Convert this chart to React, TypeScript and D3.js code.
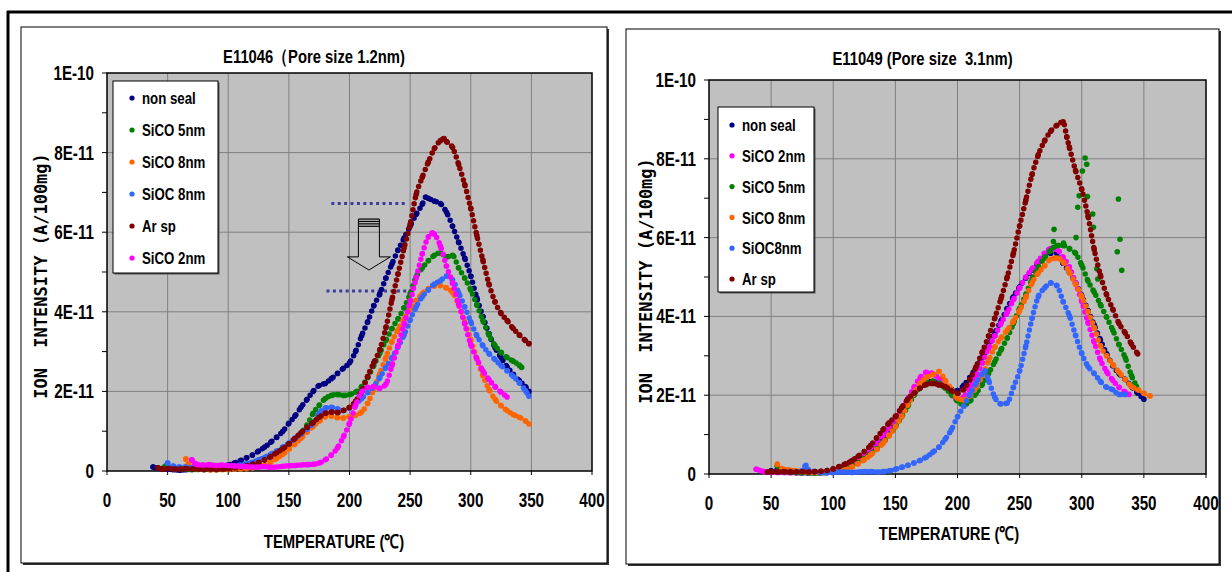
import React from 'react';
import * as d3 from 'd3';

type Pt = [number, number];

// Ion intensity in units of 1E-11 A/100mg against temperature (°C)
const X_TICKS = [0, 50, 100, 150, 200, 250, 300, 350, 400];
const Y_TICKS = [0, 2, 4, 6, 8, 10];
const Y_TICK_LABELS = ['0', '2E-11', '4E-11', '6E-11', '8E-11', '1E-10'];
const Y_MINOR = [1, 3, 5, 7, 9];

// ---- E11046 (pore size 1.2nm)
const L_NON_SEAL: Pt[] = [[38,0.1],[40,0.08],[45,0.06],[50,0.05],[55,0.03],[60,0.02],[65,0.03],[70,0.04],[75,0.05],[80,0.04],[85,0.06],[90,0.07],[95,0.1],[100,0.15],[105,0.2],[110,0.26],[115,0.33],[120,0.4],[125,0.5],[130,0.6],[135,0.72],[140,0.85],[145,1.0],[150,1.2],[155,1.38],[160,1.6],[165,1.8],[170,2.0],[175,2.15],[180,2.2],[185,2.32],[190,2.45],[195,2.58],[200,2.72],[205,3.0],[210,3.4],[215,3.75],[220,4.15],[225,4.45],[230,4.85],[235,5.2],[240,5.55],[245,5.85],[250,6.15],[255,6.45],[260,6.7],[263,6.88],[265,6.85],[270,6.78],[275,6.72],[280,6.5],[285,6.15],[290,5.75],[295,5.35],[300,4.9],[305,4.35],[310,3.88],[315,3.45],[320,3.1],[325,2.85],[330,2.62],[335,2.43],[340,2.27],[345,2.12],[348,2.0]];
const L_SICO5: Pt[] = [[48,0.12],[50,0.1],[55,0.05],[60,0.06],[65,0.05],[70,0.04],[75,0.04],[80,0.05],[85,0.04],[90,0.05],[95,0.06],[100,0.08],[105,0.1],[110,0.12],[115,0.15],[120,0.2],[125,0.25],[130,0.32],[135,0.4],[140,0.48],[145,0.56],[150,0.66],[155,0.78],[160,0.95],[165,1.15],[170,1.45],[175,1.65],[180,1.82],[185,1.9],[190,1.92],[195,1.9],[200,1.92],[205,1.98],[210,2.12],[215,2.35],[220,2.65],[225,2.96],[230,3.28],[235,3.58],[240,3.82],[245,4.1],[250,4.45],[255,4.88],[260,5.1],[265,5.28],[270,5.42],[275,5.48],[280,5.38],[285,5.42],[290,5.1],[295,4.85],[300,4.55],[305,4.18],[310,3.78],[315,3.42],[320,3.15],[325,2.98],[330,2.85],[335,2.76],[340,2.66],[342,2.6]];
const L_SICO8: Pt[] = [[65,0.3],[67,0.18],[70,0.08],[75,0.05],[80,0.04],[85,0.03],[90,0.03],[95,0.04],[100,0.04],[105,0.05],[110,0.05],[115,0.06],[120,0.08],[125,0.1],[130,0.15],[135,0.22],[140,0.32],[145,0.42],[150,0.55],[155,0.68],[160,0.82],[165,0.98],[170,1.12],[175,1.25],[180,1.36],[185,1.38],[190,1.34],[195,1.33],[200,1.36],[205,1.4],[210,1.48],[215,1.7],[220,2.05],[225,2.45],[230,2.85],[235,3.25],[240,3.55],[245,3.82],[250,4.05],[255,4.28],[260,4.45],[265,4.58],[270,4.65],[275,4.66],[280,4.6],[285,4.48],[290,4.18],[295,3.75],[300,3.3],[305,2.82],[310,2.4],[315,2.05],[320,1.8],[325,1.64],[330,1.52],[335,1.42],[340,1.35],[345,1.26],[348,1.18]];
const L_SIOC8: Pt[] = [[50,0.2],[55,0.12],[60,0.1],[65,0.1],[70,0.08],[75,0.08],[80,0.07],[85,0.06],[90,0.07],[95,0.08],[100,0.1],[105,0.12],[110,0.15],[115,0.18],[120,0.22],[125,0.28],[130,0.34],[135,0.42],[140,0.5],[145,0.6],[150,0.7],[155,0.82],[160,0.93],[165,1.05],[170,1.2],[175,1.45],[180,1.58],[185,1.6],[190,1.56],[195,1.52],[200,1.58],[205,1.68],[210,1.82],[215,1.97],[220,2.12],[225,2.35],[230,2.6],[235,2.85],[240,3.12],[245,3.42],[250,3.8],[255,4.12],[260,4.38],[265,4.55],[270,4.7],[275,4.78],[280,4.9],[285,4.8],[290,4.48],[295,4.12],[300,3.75],[305,3.4],[310,3.15],[315,2.95],[320,2.8],[325,2.65],[330,2.52],[335,2.38],[340,2.22],[345,2.02],[348,1.88]];
const L_AR_SP: Pt[] = [[42,0.08],[45,0.05],[50,0.06],[55,0.05],[60,0.05],[65,0.06],[70,0.05],[75,0.05],[80,0.04],[85,0.05],[90,0.04],[95,0.05],[100,0.06],[105,0.08],[110,0.1],[115,0.13],[120,0.17],[125,0.21],[130,0.28],[135,0.36],[140,0.46],[145,0.56],[150,0.68],[155,0.82],[160,0.96],[165,1.1],[170,1.22],[175,1.35],[180,1.45],[185,1.48],[190,1.47],[195,1.52],[200,1.6],[205,1.75],[210,2.0],[215,2.38],[220,2.72],[225,3.05],[230,3.6],[235,4.3],[240,4.95],[245,5.6],[250,6.2],[255,6.95],[260,7.38],[265,7.76],[270,8.1],[275,8.3],[278,8.35],[280,8.28],[285,8.13],[290,7.7],[295,7.2],[300,6.6],[305,5.92],[310,5.3],[315,4.7],[320,4.25],[325,3.96],[330,3.78],[335,3.58],[340,3.42],[345,3.28],[348,3.2]];
const L_SICO2: Pt[] = [[70,0.28],[72,0.2],[75,0.16],[80,0.15],[85,0.16],[90,0.14],[95,0.15],[100,0.14],[105,0.13],[110,0.12],[115,0.11],[120,0.1],[125,0.1],[130,0.11],[135,0.09],[140,0.1],[145,0.12],[150,0.13],[155,0.14],[160,0.15],[165,0.16],[170,0.17],[175,0.2],[180,0.28],[185,0.4],[190,0.58],[195,0.86],[200,1.2],[205,1.65],[210,1.98],[215,2.1],[220,2.12],[225,2.08],[230,2.18],[235,2.65],[240,3.15],[245,3.68],[250,4.25],[255,4.85],[260,5.45],[265,5.88],[268,5.98],[270,5.95],[275,5.65],[280,5.15],[285,4.72],[290,4.2],[295,3.7],[300,3.18],[305,2.82],[310,2.52],[315,2.3],[320,2.12],[325,1.98],[330,1.86]];

// ---- E11049 (pore size 3.1nm)
const R_NON_SEAL: Pt[] = [[50,0.08],[55,0.1],[60,0.06],[65,0.05],[70,0.04],[75,0.03],[80,0.03],[85,0.04],[90,0.03],[95,0.05],[100,0.07],[105,0.12],[110,0.17],[115,0.24],[120,0.32],[125,0.42],[130,0.55],[135,0.7],[140,0.88],[145,1.08],[150,1.3],[155,1.55],[160,1.82],[165,2.05],[170,2.22],[175,2.32],[180,2.35],[185,2.3],[190,2.22],[195,2.15],[200,2.12],[205,2.25],[210,2.45],[215,2.7],[220,2.95],[225,3.25],[230,3.58],[235,3.88],[240,4.2],[245,4.5],[250,4.75],[255,4.98],[260,5.18],[265,5.38],[270,5.52],[275,5.6],[280,5.6],[285,5.35],[290,5.12],[295,4.85],[300,4.52],[305,4.15],[310,3.78],[315,3.4],[320,3.05],[325,2.75],[330,2.55],[335,2.4],[340,2.22],[345,2.05],[350,1.9]];
const R_SICO2: Pt[] = [[38,0.12],[40,0.1],[45,0.06],[50,0.05],[55,0.04],[60,0.04],[65,0.03],[70,0.03],[75,0.04],[80,0.03],[85,0.04],[90,0.05],[95,0.06],[100,0.09],[105,0.13],[110,0.19],[115,0.27],[120,0.36],[125,0.48],[130,0.62],[135,0.78],[140,0.96],[145,1.16],[150,1.38],[155,1.62],[160,1.9],[165,2.2],[170,2.45],[175,2.58],[180,2.55],[185,2.42],[190,2.25],[195,2.05],[200,1.88],[205,1.95],[210,2.2],[215,2.48],[220,2.82],[225,3.2],[230,3.5],[235,3.82],[240,4.1],[245,4.42],[250,4.72],[255,5.0],[260,5.2],[265,5.4],[270,5.6],[275,5.72],[280,5.7],[285,5.5],[290,5.25],[295,4.85],[300,4.38],[305,3.85],[310,3.35],[315,2.9],[320,2.6],[325,2.38],[330,2.2],[335,2.08],[338,2.02]];
const R_SICO5: Pt[] = [[55,0.2],[60,0.08],[65,0.05],[70,0.04],[75,0.03],[80,0.03],[85,0.02],[90,0.03],[95,0.04],[100,0.06],[105,0.1],[110,0.15],[115,0.21],[120,0.29],[125,0.39],[130,0.5],[135,0.64],[140,0.8],[145,0.98],[150,1.2],[155,1.45],[160,1.72],[165,2.0],[170,2.2],[175,2.3],[180,2.35],[185,2.3],[190,2.18],[195,2.02],[200,1.85],[205,1.75],[210,1.85],[215,2.05],[220,2.28],[225,2.55],[230,2.85],[235,3.15],[240,3.45],[245,3.82],[250,4.2],[255,4.55],[260,4.95],[265,5.25],[270,5.48],[275,5.68],[280,5.8],[285,5.8],[290,5.72],[295,5.6],[300,5.3],[305,4.9],[310,4.62],[315,4.3],[320,3.98],[325,3.65],[330,3.28],[335,2.95],[340,2.5],[344,2.22]];
// scattered SiCO 5nm readings around the main peak
const R_SICO5_SCATTER: Pt[] = [[277.7,6.21],[277.2,5.9],[285.3,5.86],[295.4,6.0],[296.8,6.77],[297.9,7.06],[300.5,7.69],[302.7,8.02],[304,7.86],[304.6,7.04],[308.8,6.6],[309.4,6.26],[312.1,5.21],[312.9,4.95],[328.6,5.64],[329.5,6.98],[330.8,5.96],[332.2,5.17]];
const R_SICO8: Pt[] = [[55,0.25],[60,0.12],[65,0.1],[70,0.08],[75,0.06],[80,0.05],[85,0.04],[90,0.04],[95,0.04],[100,0.05],[105,0.08],[110,0.12],[115,0.18],[120,0.26],[125,0.36],[130,0.48],[135,0.62],[140,0.78],[145,0.98],[150,1.2],[155,1.46],[160,1.76],[165,2.05],[170,2.3],[175,2.45],[180,2.52],[185,2.6],[190,2.38],[195,2.15],[200,1.92],[205,1.88],[210,1.98],[215,2.2],[220,2.5],[225,2.88],[230,3.22],[235,3.45],[240,3.65],[245,3.88],[250,4.15],[255,4.48],[260,4.85],[265,5.1],[270,5.28],[275,5.45],[280,5.48],[285,5.38],[290,5.12],[295,4.82],[300,4.5],[305,4.12],[310,3.72],[315,3.25],[320,3.0],[325,2.78],[330,2.58],[335,2.4],[340,2.22],[345,2.14],[350,2.05],[355,1.98]];
const R_SIOC8: Pt[] = [[60,0.05],[65,0.06],[70,0.05],[75,0.08],[78,0.22],[80,0.1],[85,0.06],[90,0.04],[95,0.03],[100,0.04],[105,0.05],[110,0.05],[115,0.04],[120,0.05],[125,0.06],[130,0.06],[135,0.05],[140,0.06],[145,0.08],[150,0.12],[155,0.17],[160,0.22],[165,0.28],[170,0.35],[175,0.43],[180,0.55],[185,0.68],[190,0.88],[195,1.12],[200,1.45],[205,1.72],[210,2.02],[215,2.3],[220,2.55],[222,2.62],[225,2.38],[230,1.95],[235,1.78],[240,1.8],[245,2.2],[250,2.62],[255,3.25],[260,3.95],[265,4.5],[270,4.72],[275,4.85],[280,4.78],[285,4.38],[290,4.02],[295,3.52],[300,3.06],[305,2.73],[310,2.55],[315,2.35],[320,2.2],[325,2.14],[330,2.02],[335,2.02]];
const R_AR_SP: Pt[] = [[47,0.05],[50,0.06],[55,0.05],[60,0.06],[65,0.05],[70,0.05],[75,0.06],[80,0.05],[85,0.06],[90,0.07],[95,0.09],[100,0.13],[105,0.19],[110,0.26],[115,0.34],[120,0.45],[125,0.57],[130,0.72],[135,0.92],[140,1.12],[145,1.3],[150,1.46],[155,1.68],[160,1.9],[165,2.05],[170,2.18],[175,2.27],[180,2.3],[185,2.26],[190,2.22],[195,2.12],[200,2.05],[205,2.15],[210,2.4],[215,2.72],[220,3.1],[225,3.5],[230,3.96],[235,4.45],[240,5.0],[245,5.6],[250,6.3],[255,6.95],[260,7.6],[265,8.1],[270,8.45],[275,8.7],[280,8.85],[285,8.94],[288,8.55],[290,8.3],[295,7.7],[300,7.22],[305,6.55],[310,5.7],[315,5.05],[320,4.55],[325,4.18],[330,3.82],[335,3.58],[340,3.3],[345,3.05]];

// peak-reduction annotation in the 1.2nm panel
const PEAK_LEVELS = [
  { from: 185, to: 248, value: 6.72 },
  { from: 181, to: 252, value: 4.52 },
];
const ARROW = { t: 216, top: 6.33, headStart: 5.38, tip: 5.05 };

const NAVY = '#000080';
const GREEN = '#008000';
const ORANGE = '#ff6600';
const BLUE = '#3366ff';
const MAROON = '#800000';
const MAGENTA = '#ff00ff';

const SANS = '"Liberation Sans", Arial, sans-serif';
const MONO = '"DejaVu Sans Mono", "Liberation Mono", monospace';
const SQUEEZE = 0.78;

type Series = { name: string; color: string; data: Pt[]; extra?: Pt[] };

type PanelCfg = {
  title: string;
  frame: { x: number; y: number; w: number; h: number };
  plot: { l: number; r: number; t: number; b: number };
  titleY: number;
  yLabelX: number;
  xLabelX: number;
  xLabelY: number;
  legend: { x: number; y: number; w: number; h: number; row0: number; step: number; mdx: number; tdx: number };
  series: Series[];
  annotate?: boolean;
};

const PANELS: PanelCfg[] = [
  {
    title: 'E11046（Pore size 1.2nm)',
    frame: { x: 21, y: 27, w: 586, h: 536 },
    plot: { l: 107, r: 592, t: 73, b: 471 },
    titleY: 63,
    yLabelX: 41,
    xLabelX: 334,
    xLabelY: 548,
    legend: { x: 113, y: 81, w: 105, h: 192, row0: 98, step: 32, mdx: 19, tdx: 29 },
    series: [
      { name: 'non seal', color: NAVY, data: L_NON_SEAL },
      { name: 'SiCO 5nm', color: GREEN, data: L_SICO5 },
      { name: 'SiCO 8nm', color: ORANGE, data: L_SICO8 },
      { name: 'SiOC 8nm', color: BLUE, data: L_SIOC8 },
      { name: 'Ar sp', color: MAROON, data: L_AR_SP },
      { name: 'SiCO 2nm', color: MAGENTA, data: L_SICO2 },
    ],
    annotate: true,
  },
  {
    title: 'E11049 (Pore size  3.1nm)',
    frame: { x: 626, y: 29, w: 593, h: 535 },
    plot: { l: 709, r: 1206, t: 80, b: 474 },
    titleY: 65,
    yLabelX: 646,
    xLabelX: 949,
    xLabelY: 540,
    legend: { x: 718, y: 107, w: 96, h: 185, row0: 125, step: 30.8, mdx: 14, tdx: 24 },
    series: [
      { name: 'non seal', color: NAVY, data: R_NON_SEAL },
      { name: 'SiCO 2nm', color: MAGENTA, data: R_SICO2 },
      { name: 'SiCO 5nm', color: GREEN, data: R_SICO5, extra: R_SICO5_SCATTER },
      { name: 'SiCO 8nm', color: ORANGE, data: R_SICO8 },
      { name: 'SiOC8nm', color: BLUE, data: R_SIOC8 },
      { name: 'Ar sp', color: MAROON, data: R_AR_SP },
    ],
  },
];

// bold, horizontally condensed label text
function NText(props: {
  x: number;
  y: number;
  size: number;
  anchor?: 'start' | 'middle' | 'end';
  dy?: string;
  children: React.ReactNode;
}) {
  return (
    <text
      transform={`translate(${props.x},${props.y}) scale(${SQUEEZE},1)`}
      textAnchor={props.anchor || 'start'}
      dy={props.dy}
      fontFamily={SANS}
      fontWeight="bold"
      fontSize={props.size}
      style={{ whiteSpace: 'pre' }}
    >
      {props.children}
    </text>
  );
}

function Panel({ cfg }: { cfg: PanelCfg }) {
  const { plot, frame, legend } = cfg;
  const x = d3.scaleLinear().domain([0, 400]).range([plot.l, plot.r]);
  const y = d3.scaleLinear().domain([0, 10]).range([plot.b, plot.t]);
  const trail = d3
    .line<Pt>()
    .x((d) => x(d[0]))
    .y((d) => y(d[1]))
    .curve(d3.curveMonotoneX);
  const cy = (plot.t + plot.b) / 2;

  let arrowPath = '';
  if (cfg.annotate) {
    const ax = x(ARROW.t);
    const top = y(ARROW.top);
    const hs = y(ARROW.headStart);
    const tip = y(ARROW.tip);
    const sw = 10.5;
    const hw = 21.5;
    arrowPath = `M${ax - sw},${top}V${hs}H${ax - hw}L${ax},${tip}L${ax + hw},${hs}H${ax + sw}V${top}`;
  }

  return (
    <g>
      {/* chart frame with drop shadow */}
      <rect x={frame.x + 2} y={frame.y + 2} width={frame.w} height={frame.h} fill="#333" />
      <rect x={frame.x} y={frame.y} width={frame.w} height={frame.h} fill="#fff" stroke="#000" strokeWidth={1} />

      <NText x={frame.x + frame.w / 2} y={cfg.titleY} size={19} anchor="middle">
        {cfg.title}
      </NText>

      {/* plot area */}
      <rect x={plot.l} y={plot.t} width={plot.r - plot.l} height={plot.b - plot.t} fill="#c0c0c0" />
      {X_TICKS.slice(1, -1).map((t) => (
        <line key={'gx' + t} x1={x(t)} x2={x(t)} y1={plot.t} y2={plot.b} stroke="#808080" strokeWidth={1} />
      ))}
      {Y_TICKS.slice(1, -1).map((t) => (
        <line key={'gy' + t} x1={plot.l} x2={plot.r} y1={y(t)} y2={y(t)} stroke="#808080" strokeWidth={1} />
      ))}
      <rect x={plot.l} y={plot.t} width={plot.r - plot.l} height={plot.b - plot.t} fill="none" stroke="#000" strokeWidth={1.5} />
      {Y_TICKS.concat(Y_MINOR).map((t) => (
        <line key={'ty' + t} x1={plot.l - 5} x2={plot.l} y1={y(t)} y2={y(t)} stroke="#000" strokeWidth={1} />
      ))}
      {X_TICKS.map((t) => (
        <line key={'tx' + t} x1={x(t)} x2={x(t)} y1={plot.b} y2={plot.b + 4} stroke="#000" strokeWidth={1} />
      ))}

      {/* tick labels */}
      {Y_TICKS.map((t, i) => (
        <NText key={'ly' + t} x={plot.l - 13} y={y(t)} dy="0.36em" size={19.5} anchor="end">
          {Y_TICK_LABELS[i]}
        </NText>
      ))}
      {X_TICKS.map((t) => (
        <NText key={'lx' + t} x={x(t)} y={plot.b + 36} size={19.5} anchor="middle">
          {String(t)}
        </NText>
      ))}

      {/* axis titles */}
      <text
        transform={`translate(${cfg.yLabelX},${cy + 4}) rotate(-90)`}
        textAnchor="middle"
        dy="0.35em"
        fontFamily={MONO}
        fontWeight="bold"
        fontSize={17}
        style={{ whiteSpace: 'pre' }}
      >
        ION  INTENSITY (A/100mg)
      </text>
      <NText x={cfg.xLabelX} y={cfg.xLabelY} size={19} anchor="middle">
        TEMPERATURE (℃)
      </NText>

      {/* peak level annotation */}
      {cfg.annotate && (
        <g>
          {PEAK_LEVELS.map((p, i) => (
            <line
              key={'pl' + i}
              x1={x(p.from)}
              x2={x(p.to)}
              y1={y(p.value)}
              y2={y(p.value)}
              stroke="#3c3c9c"
              strokeWidth={3}
              strokeDasharray="3 3.4"
            />
          ))}
          <path d={arrowPath} fill="none" stroke="#000" strokeWidth={1} />
          {[0, 2.4, 4.8, 7.2].map((o) => (
            <line
              key={'st' + o}
              x1={x(ARROW.t) - 10.5}
              x2={x(ARROW.t) + 10.5}
              y1={y(ARROW.top) + o}
              y2={y(ARROW.top) + o}
              stroke="#000"
              strokeWidth={1.2}
            />
          ))}
        </g>
      )}

      {/* measurement series */}
      {cfg.series.map((s) => (
        <g key={s.name}>
          <path
            d={trail(s.data) || ''}
            fill="none"
            stroke={s.color}
            strokeWidth={5.5}
            strokeLinecap="round"
            strokeDasharray="0 6"
          />
          {s.data.map((d, i) => (
            <circle key={i} cx={x(d[0])} cy={y(d[1])} r={2.8} fill={s.color} />
          ))}
          {(s.extra || []).map((d, i) => (
            <circle key={'e' + i} cx={x(d[0])} cy={y(d[1])} r={2.8} fill={s.color} />
          ))}
        </g>
      ))}

      {/* legend */}
      <rect x={legend.x + 1.5} y={legend.y + 1.5} width={legend.w} height={legend.h} fill="#555" />
      <rect x={legend.x} y={legend.y} width={legend.w} height={legend.h} fill="#fff" stroke="#000" strokeWidth={1} />
      {cfg.series.map((s, i) => {
        const ry = legend.row0 + i * legend.step;
        return (
          <g key={'lg' + s.name}>
            <circle cx={legend.x + legend.mdx} cy={ry} r={2.6} fill={s.color} />
            <NText x={legend.x + legend.tdx} y={ry} dy="0.36em" size={17}>
              {s.name}
            </NText>
          </g>
        );
      })}
    </g>
  );
}

export default function App() {
  return (
    <svg
      width={1232}
      height={572}
      viewBox="0 0 1232 572"
      style={{ position: 'absolute', left: 0, top: 0, background: '#fff' }}
    >
      <rect x={0} y={0} width={1232} height={572} fill="#fff" />
      {/* outer page frame */}
      <line x1={7} x2={1232} y1={12} y2={12} stroke="#000" strokeWidth={3} />
      <line x1={8} x2={8} y1={11} y2={572} stroke="#000" strokeWidth={3} />
      {PANELS.map((p) => (
        <Panel key={p.title} cfg={p} />
      ))}
    </svg>
  );
}
